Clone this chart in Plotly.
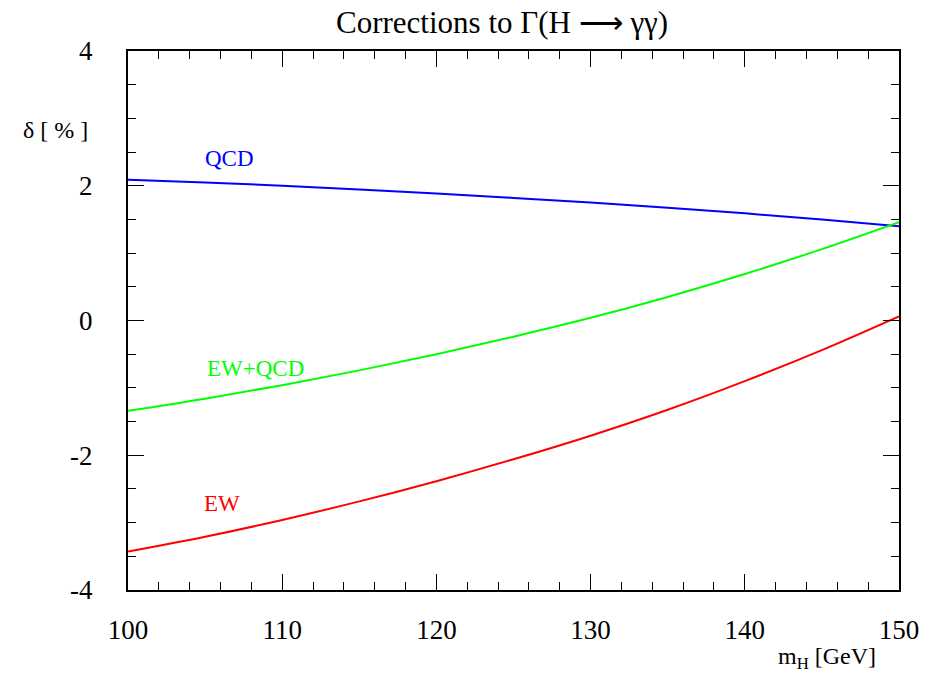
import plotly.graph_objects as go

mh = [100, 105, 110, 115, 120, 125, 130, 135, 140, 145, 150]
qcd = [2.09, 2.05, 2.00, 1.945, 1.885, 1.82, 1.75, 1.675, 1.59, 1.50, 1.40]
ew_qcd = [-1.34, -1.16, -0.96, -0.74, -0.50, -0.24, 0.04, 0.35, 0.69, 1.06, 1.46]
ew = [-3.43, -3.21, -2.96, -2.685, -2.385, -2.06, -1.71, -1.325, -0.90, -0.44, 0.06]

x_ticks = [100, 110, 120, 130, 140, 150]
x_ticktext = ["100", "110", "120", "130", "140", "150"]
y_ticks = [-4, -2, 0, 2, 4]
y_ticktext = ["-4", "-2", "0", "2", "4"]

W, H = 934, 673
L, R, T, B = 127.5, 898.7, 50.7, 590.0
FONT = "Liberation Serif"

def px(x):
    return (x - L) / (R - L)

def py(y):
    return (B - y) / (B - T)

fig = go.Figure()
for vals, col in [(qcd, "#0000ff"), (ew_qcd, "#00ff00"), (ew, "#ff0000")]:
    fig.add_trace(go.Scatter(x=mh, y=vals, mode="lines",
                             line=dict(color=col, width=2, shape="spline"),
                             showlegend=False, hoverinfo="skip"))

axis_common = dict(showgrid=False, zeroline=False, ticks="inside", mirror="allticks",
                   showline=True, linecolor="black", linewidth=2, tickcolor="black",
                   tickwidth=1.2, ticklen=16, tickmode="array",
                   tickfont=dict(family=FONT, size=27, color="black"))
fig.update_xaxes(range=[100, 150], tickvals=x_ticks, ticktext=x_ticktext,
                 minor=dict(dtick=2, tick0=100, ticklen=8, tickcolor="black", ticks="inside", tickwidth=1.2),
                 ticklabelstandoff=15, **axis_common)
fig.update_yaxes(range=[-4, 4], tickvals=y_ticks, ticktext=y_ticktext,
                 minor=dict(dtick=0.5, tick0=0, ticklen=8, tickcolor="black", ticks="inside", tickwidth=1.2),
                 ticklabelstandoff=28, **axis_common)

ann = [
    dict(x=106.6, y=2.41, text="QCD", color="#0000ff"),
    dict(x=108.3, y=-0.71, text="EW+QCD", color="#00ff00"),
    dict(x=106.1, y=-2.71, text="EW", color="#ff0000"),
]
for a in ann:
    fig.add_annotation(x=a["x"], y=a["y"], xref="x", yref="y", text=a["text"],
                       xanchor="center", yanchor="middle",
                       showarrow=False, font=dict(family=FONT, size=23, color=a["color"]))

fig.add_annotation(x=px(502), y=py(22), xref="paper", yref="paper",
                   xanchor="center", yanchor="middle",
                   text="Corrections to Γ(H ⟶ γγ)", showarrow=False,
                   font=dict(family=FONT, size=31, color="black"))
fig.add_annotation(x=px(827), y=py(658), xref="paper", yref="paper",
                   xanchor="center", yanchor="middle",
                   text="m<sub>H</sub> [GeV]", showarrow=False,
                   font=dict(family=FONT, size=24, color="black"))
fig.add_annotation(x=px(20), y=py(130), xref="paper", yref="paper",
                   xanchor="left", yanchor="middle",
                   text="δ [ % ]", showarrow=False,
                   font=dict(family=FONT, size=24, color="black"))

fig.update_layout(width=W, height=H, plot_bgcolor="white", paper_bgcolor="white",
                  margin=dict(l=L, r=W - R, t=T, b=H - B, autoexpand=False))
fig.write_html("out.html", config={"displayModeBar": False},
               post_script="document.body.style.margin='0';")
